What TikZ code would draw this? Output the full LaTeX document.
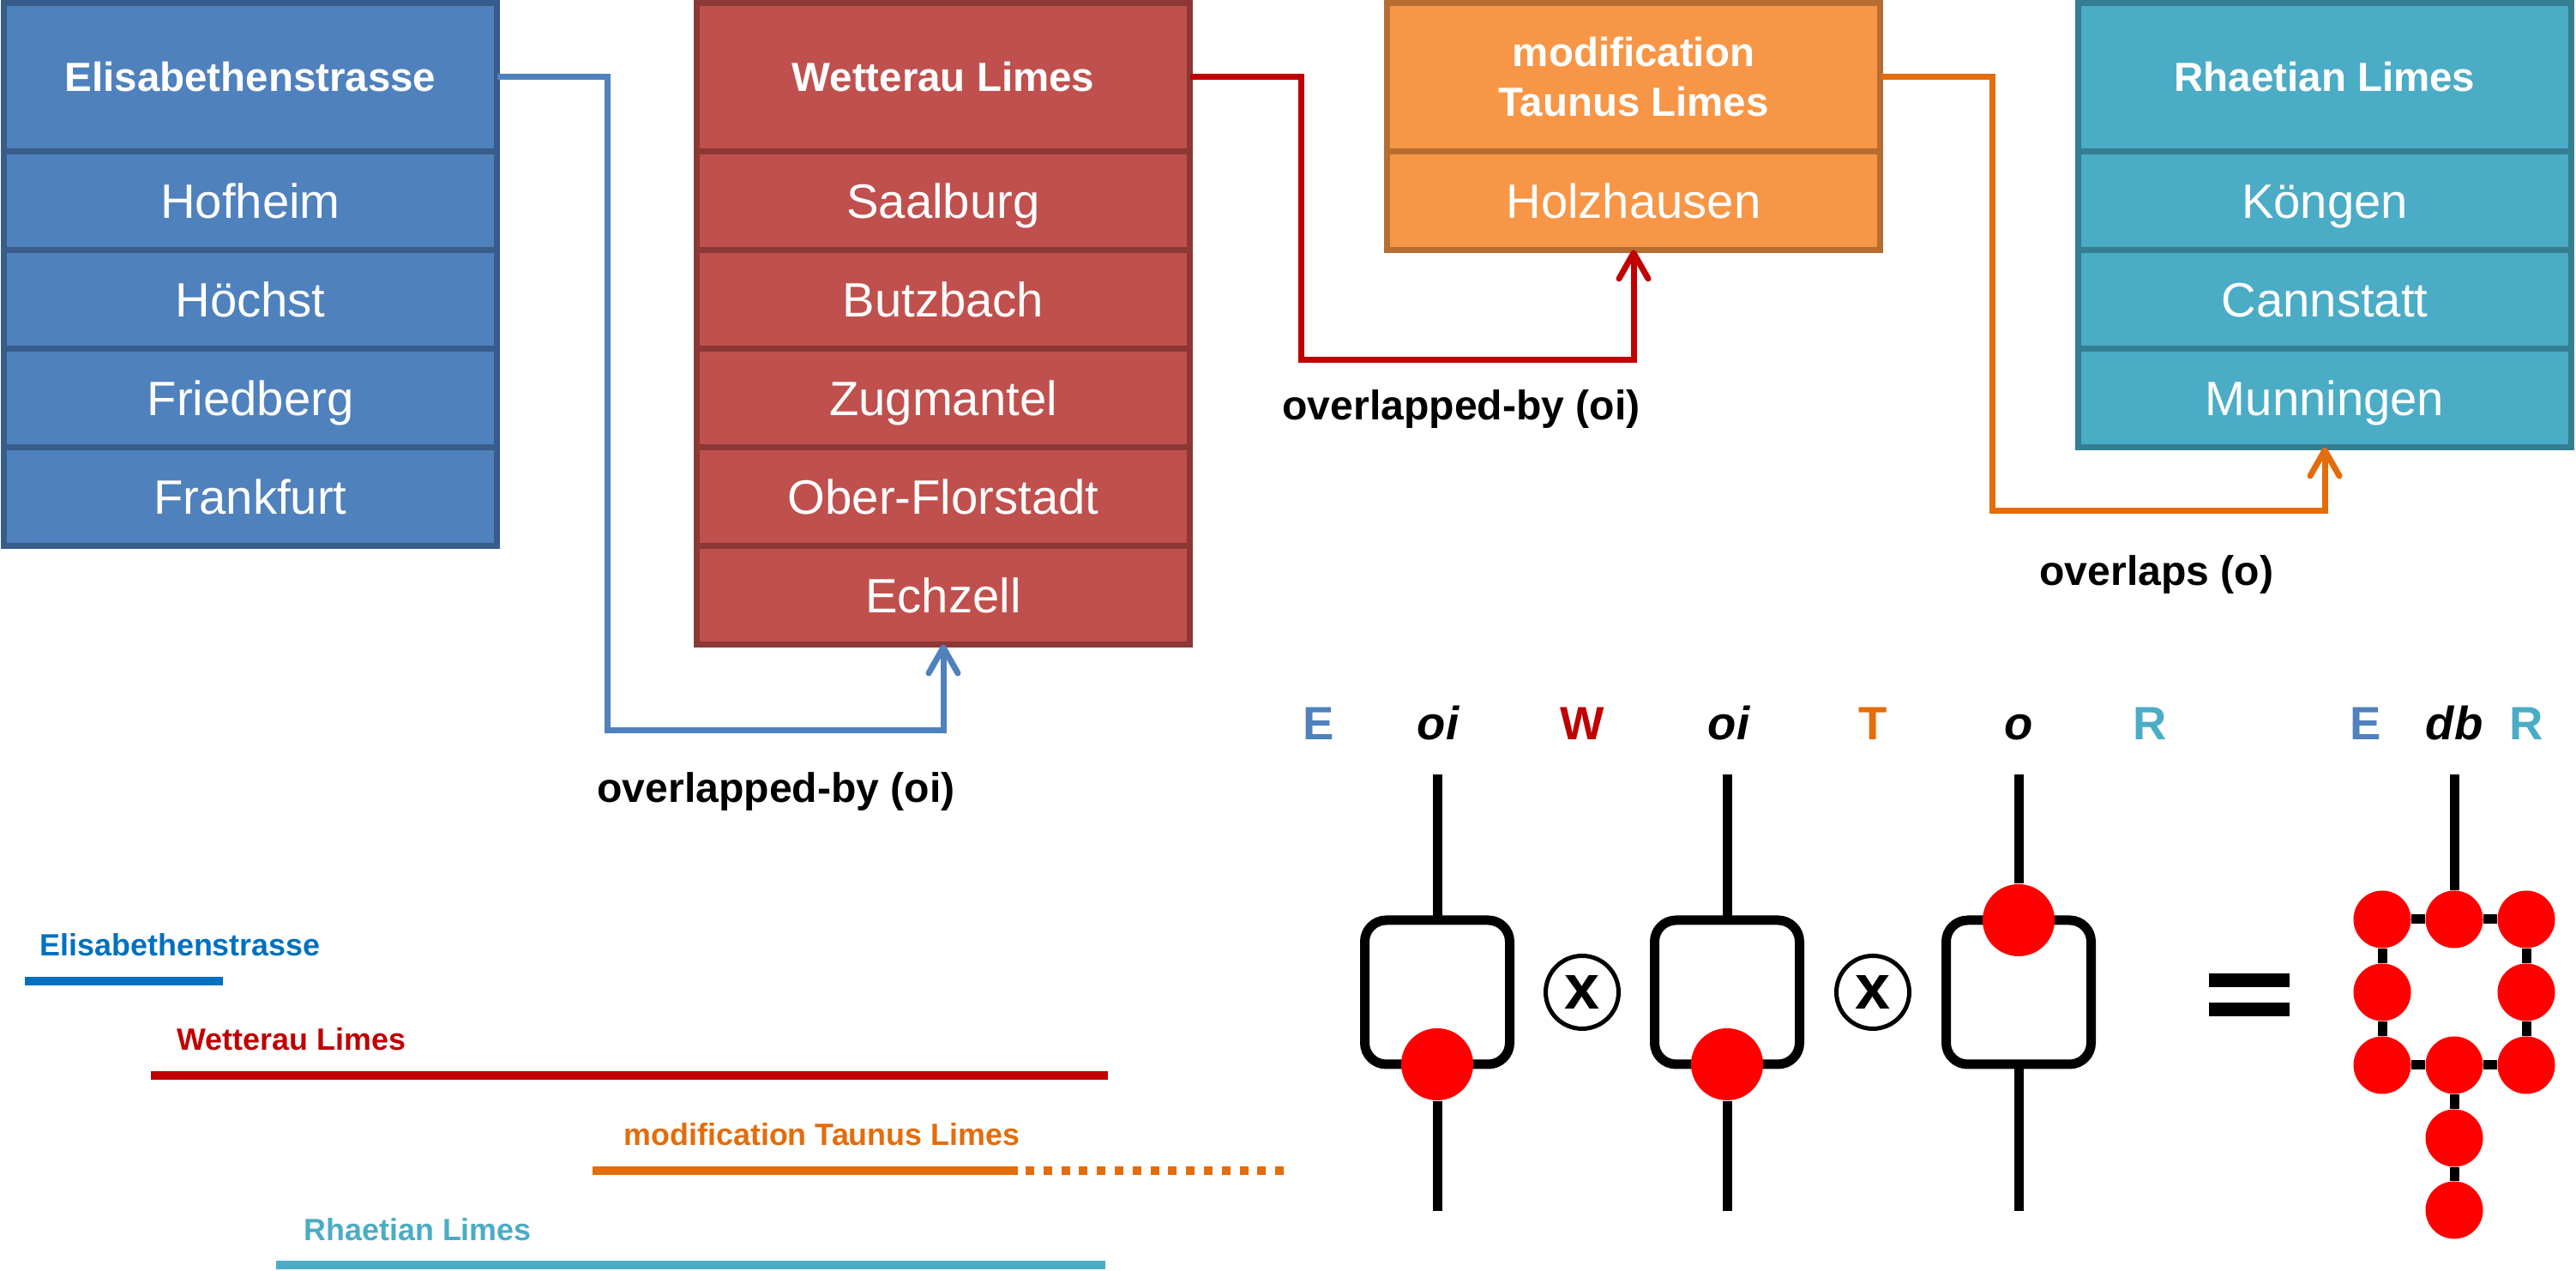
\documentclass[tikz,border=0pt]{standalone}
\usepackage{fontspec}
\setmainfont{Liberation Sans}
\usetikzlibrary{arrows.meta, positioning}

\definecolor{eblue}{HTML}{4F81BD}
\definecolor{eblueline}{HTML}{385D8A}
\definecolor{wred}{HTML}{C0504D}
\definecolor{wredline}{HTML}{8C3836}
\definecolor{torange}{HTML}{F79646}
\definecolor{torangeline}{HTML}{B66D31}
\definecolor{rteal}{HTML}{4BACC6}
\definecolor{rtealline}{HTML}{357D91}
\definecolor{linkred}{HTML}{C00000}
\definecolor{linkorange}{HTML}{E46C0A}
\definecolor{barblue}{HTML}{0070C0}

\tikzset{
  head/.style={draw, line width=0.07cm, outer sep=0pt, inner sep=0pt, minimum width=5.75cm, minimum height=1.73cm, text=white, align=center, font=\fontsize{13.5}{16.5}\selectfont\bfseries},
  site/.style={draw, line width=0.07cm, outer sep=0pt, inner sep=0pt, minimum width=5.75cm, minimum height=1.15cm, text=white, text height=11.5pt, text depth=0pt, font=\fontsize{16}{19}\selectfont},
  ebox/.style={fill=eblue, draw=eblueline},
  wbox/.style={fill=wred, draw=wredline},
  tbox/.style={fill=torange, draw=torangeline},
  rbox/.style={fill=rteal, draw=rtealline},
  link/.style={line width=0.07cm, -{Straight Barb[length=0.3cm, width=0.34cm, round]}},
  lbl/.style={font=\fontsize{13.7}{16}\selectfont\bfseries},
  bar/.style={line width=0.1cm},
  barlbl/.style={anchor=west, inner sep=0pt, font=\fontsize{10.2}{12}\selectfont\bfseries},
  tag/.style={anchor=base, font=\fontsize{15.5}{18}\selectfont\bfseries},
  wire/.style={line width=0.11cm},
  qbox/.style={draw, line width=0.11cm, rounded corners=0.25cm, outer sep=0pt, minimum width=1.69cm, minimum height=1.68cm},
  dot/.style={circle, fill=red, inner sep=0pt, minimum size=0.84cm},
  smalldot/.style={circle, fill=red, inner sep=0pt, minimum size=0.67cm},
  times/.style={circle, draw, line width=0.05cm, inner sep=0pt, minimum size=0.85cm, font=\fontsize{21}{21}\selectfont\bfseries}
}

\begin{document}
\begin{tikzpicture}
  \useasboundingbox (0,0) rectangle (30.04,14.82);

  % tables
  \node[head, ebox] (e0) at (2.92,13.92) {Elisabethenstrasse};
  \node[site, ebox, below=0pt of e0] (e1) {Hofheim};
  \node[site, ebox, below=0pt of e1] (e2) {Höchst};
  \node[site, ebox, below=0pt of e2] (e3) {Friedberg};
  \node[site, ebox, below=0pt of e3] (e4) {Frankfurt};

  \node[head, wbox] (w0) at (11.0,13.92) {Wetterau Limes};
  \node[site, wbox, below=0pt of w0] (w1) {Saalburg};
  \node[site, wbox, below=0pt of w1] (w2) {Butzbach};
  \node[site, wbox, below=0pt of w2] (w3) {Zugmantel};
  \node[site, wbox, below=0pt of w3] (w4) {Ober-Florstadt};
  \node[site, wbox, below=0pt of w4] (w5) {Echzell};

  \node[head, tbox] (t0) at (19.05,13.92) {modification\\Taunus Limes};
  \node[site, tbox, below=0pt of t0] (t1) {Holzhausen};

  \node[head, rbox] (r0) at (27.11,13.92) {Rhaetian Limes};
  \node[site, rbox, below=0pt of r0] (r1) {Köngen};
  \node[site, rbox, below=0pt of r1] (r2) {Cannstatt};
  \node[site, rbox, below=0pt of r2] (r3) {Munningen};

  % relations
  \draw[link, eblue] (e0.east) -- ++(1.285,0) |- ([yshift=-1.005cm]w5.south) -- (w5.south);
  \draw[link, linkred] (w0.east) -- ++(1.295,0) |- ([yshift=-1.285cm]t1.south) -- (t1.south);
  \draw[link, linkorange] (t0.east) -- ++(1.305,0) |- ([yshift=-0.745cm]r3.south) -- (r3.south);

  \node[lbl] (l1) at (9.05,5.59) {overlapped-by (oi)};
  \node[lbl] (l2) at (17.04,10.05) {overlapped-by (oi)};
  \node[lbl] (l3) at (25.15,8.12) {overlaps (o)};

  % time line
  \node[barlbl, text=barblue] (be) at (0.46,3.80) {Elisabethenstrasse};
  \draw[bar, barblue] (0.29,3.38) -- (2.60,3.38);
  \node[barlbl, text=linkred] (bw) at (2.06,2.70) {Wetterau Limes};
  \draw[bar, linkred] (1.76,2.28) -- (12.92,2.28);
  \node[barlbl, text=linkorange] (bt) at (7.27,1.59) {modification Taunus Limes};
  \draw[bar, linkorange] (6.91,1.17) -- (11.87,1.17);
  \draw[bar, linkorange, dash pattern=on 0.1cm off 0.108cm] (11.96,1.17) -- (14.98,1.17);
  \node[barlbl, text=rteal] (br) at (3.54,0.48) {Rhaetian Limes};
  \draw[bar, rteal] (3.22,0.07) -- (12.89,0.07);

  % composition
  \node[tag, text=eblue] (g1) at (15.38,6.19) {E};
  \node[tag] (g2) at (16.77,6.19) {\itshape oi};
  \node[tag, text=linkred] (g3) at (18.45,6.19) {W};
  \node[tag] (g4) at (20.16,6.19) {\itshape oi};
  \node[tag, text=linkorange] (g5) at (21.84,6.19) {T};
  \node[tag] (g6) at (23.54,6.19) {\itshape o};
  \node[tag, text=rteal] (g7) at (25.07,6.19) {R};
  \node[tag, text=eblue] (g8) at (27.59,6.19) {E};
  \node[tag] (g9) at (28.62,6.19) {\itshape db};
  \node[tag, text=rteal] (g10) at (29.46,6.19) {R};

  \coordinate (q1in) at (16.76,5.79);
  \coordinate (q1out) at (16.76,0.70);
  \node[qbox] (q1) at (16.76,3.25) {};
  \node[dot] (q1d) at (q1.south) {};
  \draw[wire] (q1in) -- (q1.north);
  \draw[wire] (q1d) -- (q1out);

  \node[times] (x1) at (18.45,3.25) {x};

  \coordinate (q2in) at (20.14,5.79);
  \coordinate (q2out) at (20.14,0.70);
  \node[qbox] (q2) at (20.14,3.25) {};
  \node[dot] (q2d) at (q2.south) {};
  \draw[wire] (q2in) -- (q2.north);
  \draw[wire] (q2d) -- (q2out);

  \node[times] (x2) at (21.84,3.25) {x};

  \coordinate (q3in) at (23.54,5.79);
  \coordinate (q3out) at (23.54,0.70);
  \node[qbox] (q3) at (23.54,3.25) {};
  \node[dot] (q3d) at (q3.north) {};
  \draw[wire] (q3in) -- (q3d);
  \draw[wire] (q3.south) -- (q3out);

  \fill (25.76,3.31) rectangle (26.70,3.47);
  \fill (25.76,2.97) rectangle (26.70,3.13);

  % result
  \coordinate (din) at (28.62,5.79);
  \node[smalldot] (d1) at (27.78,4.10) {};
  \node[smalldot] (d2) at (28.62,4.10) {};
  \node[smalldot] (d3) at (29.46,4.10) {};
  \node[smalldot] (d4) at (27.78,3.25) {};
  \node[smalldot] (d5) at (29.46,3.25) {};
  \node[smalldot] (d6) at (27.78,2.40) {};
  \node[smalldot] (d7) at (28.62,2.40) {};
  \node[smalldot] (d8) at (29.46,2.40) {};
  \node[smalldot] (d9) at (28.62,1.55) {};
  \node[smalldot] (d10) at (28.62,0.71) {};
  \draw[wire] (din) -- (d2);
  \draw[wire] (d1) -- (d2) -- (d3);
  \draw[wire] (d1) -- (d4) -- (d6);
  \draw[wire] (d3) -- (d5) -- (d8);
  \draw[wire] (d6) -- (d7) -- (d8);
  \draw[wire] (d7) -- (d9) -- (d10);
\end{tikzpicture}
\end{document}
